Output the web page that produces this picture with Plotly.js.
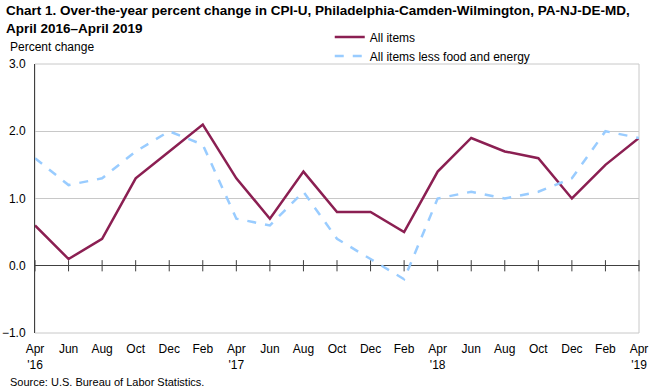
<!DOCTYPE html>
<html>
<head>
<meta charset="utf-8">
<script src="https://cdn.plot.ly/plotly-3.0.1.min.js"></script>
<style>html,body{margin:0;padding:0;background:#fff}#chart{width:650px;height:389px}</style>
</head>
<body>
<div id="chart"></div>
<script>
var categories = ["Apr 2016","Jun 2016","Aug 2016","Oct 2016","Dec 2016","Feb 2017","Apr 2017","Jun 2017","Aug 2017","Oct 2017","Dec 2017","Feb 2018","Apr 2018","Jun 2018","Aug 2018","Oct 2018","Dec 2018","Feb 2019","Apr 2019"];
var tickLabels = ["Apr<br>'16","Jun","Aug","Oct","Dec","Feb","Apr<br>'17","Jun","Aug","Oct","Dec","Feb","Apr<br>'18","Jun","Aug","Oct","Dec","Feb","Apr<br>'19"];
var allItems = [0.6,0.1,0.4,1.3,1.7,2.1,1.3,0.7,1.4,0.8,0.8,0.5,1.4,1.9,1.7,1.6,1.0,1.5,1.9];
var core = [1.6,1.2,1.3,1.7,2.0,1.8,0.7,0.6,1.1,0.4,0.1,-0.2,1.0,1.1,1.0,1.1,1.3,2.0,1.9];
var zeroTicks = categories.map(function(){return 0;});

var font = "Arial, 'Liberation Sans', sans-serif";
var traces = [
  {x: categories, y: zeroTicks, type: 'scatter', mode: 'markers', showlegend: false, hoverinfo: 'skip',
   marker: {symbol: 'line-ns', size: 8, line: {width: 1, color: '#404040'}, color: '#404040'}, cliponaxis: false},
  {x: categories, y: allItems, type: 'scatter', mode: 'lines', name: 'All items',
   line: {color: '#8b1f52', width: 2.5}},
  {x: categories, y: core, type: 'scatter', mode: 'lines', name: 'All items less food and energy',
   line: {color: '#99ccff', width: 2.5, dash: 'dash'}}
];
var layout = {
  width: 650, height: 389,
  margin: {l: 35, r: 11, t: 64, b: 56},
  paper_bgcolor: '#fff', plot_bgcolor: '#fff',
  font: {family: font, color: '#000', size: 12},
  xaxis: {type: 'category', categoryorder: 'array', categoryarray: categories, range: [0, 18],
          tickvals: categories, ticktext: tickLabels, showgrid: false, zeroline: false, showline: false, ticks: '',
          tickfont: {size: 12, family: font, color: '#000'}, ticklabelstandoff: 7, fixedrange: true},
  yaxis: {range: [-1, 3], dtick: 1, tick0: -1, tickformat: '.1f', showgrid: true, gridcolor: '#c8c8c8', gridwidth: 1,
          zeroline: true, zerolinecolor: '#404040', zerolinewidth: 1,
          showline: true, linecolor: '#404040', linewidth: 1, ticks: '', ticklabelstandoff: 6,
          tickfont: {size: 12, family: font, color: '#000'}, fixedrange: true},
  shapes: [{type: 'rect', xref: 'paper', yref: 'paper', x0: 0, x1: 1, y0: 0, y1: 1, line: {color: '#c8c8c8', width: 1}, layer: 'below'}],
  legend: {x: 0.488, xanchor: 'left', y: 1.154, yanchor: 'top', bgcolor: 'rgba(0,0,0,0)', font: {size: 12, family: font, color: '#000'},
           tracegroupgap: 0, itemwidth: 30},
  annotations: [
    {text: '<b>Chart 1. Over-the-year percent change in CPI-U, Philadelphia-Camden-Wilmington, PA-NJ-DE-MD,<br>April 2016–April 2019</b>',
     xref: 'paper', yref: 'paper', x: -0.0513, y: 1.236, xanchor: 'left', yanchor: 'top', align: 'left', showarrow: false,
     font: {size: 13.5, family: font, color: '#000'}},
    {text: 'Percent change', xref: 'paper', yref: 'paper', x: -0.0447, y: 1.063, xanchor: 'left', yanchor: 'middle', showarrow: false,
     font: {size: 12, family: font, color: '#000'}},
    {text: 'Source: U.S. Bureau of Labor Statistics.', xref: 'paper', yref: 'paper', x: -0.0447, y: -0.182, xanchor: 'left', yanchor: 'middle', showarrow: false,
     font: {size: 11, family: font, color: '#000'}}
  ]
};
Plotly.newPlot('chart', traces, layout, {displayModeBar: false, staticPlot: true});
</script>
</body>
</html>
